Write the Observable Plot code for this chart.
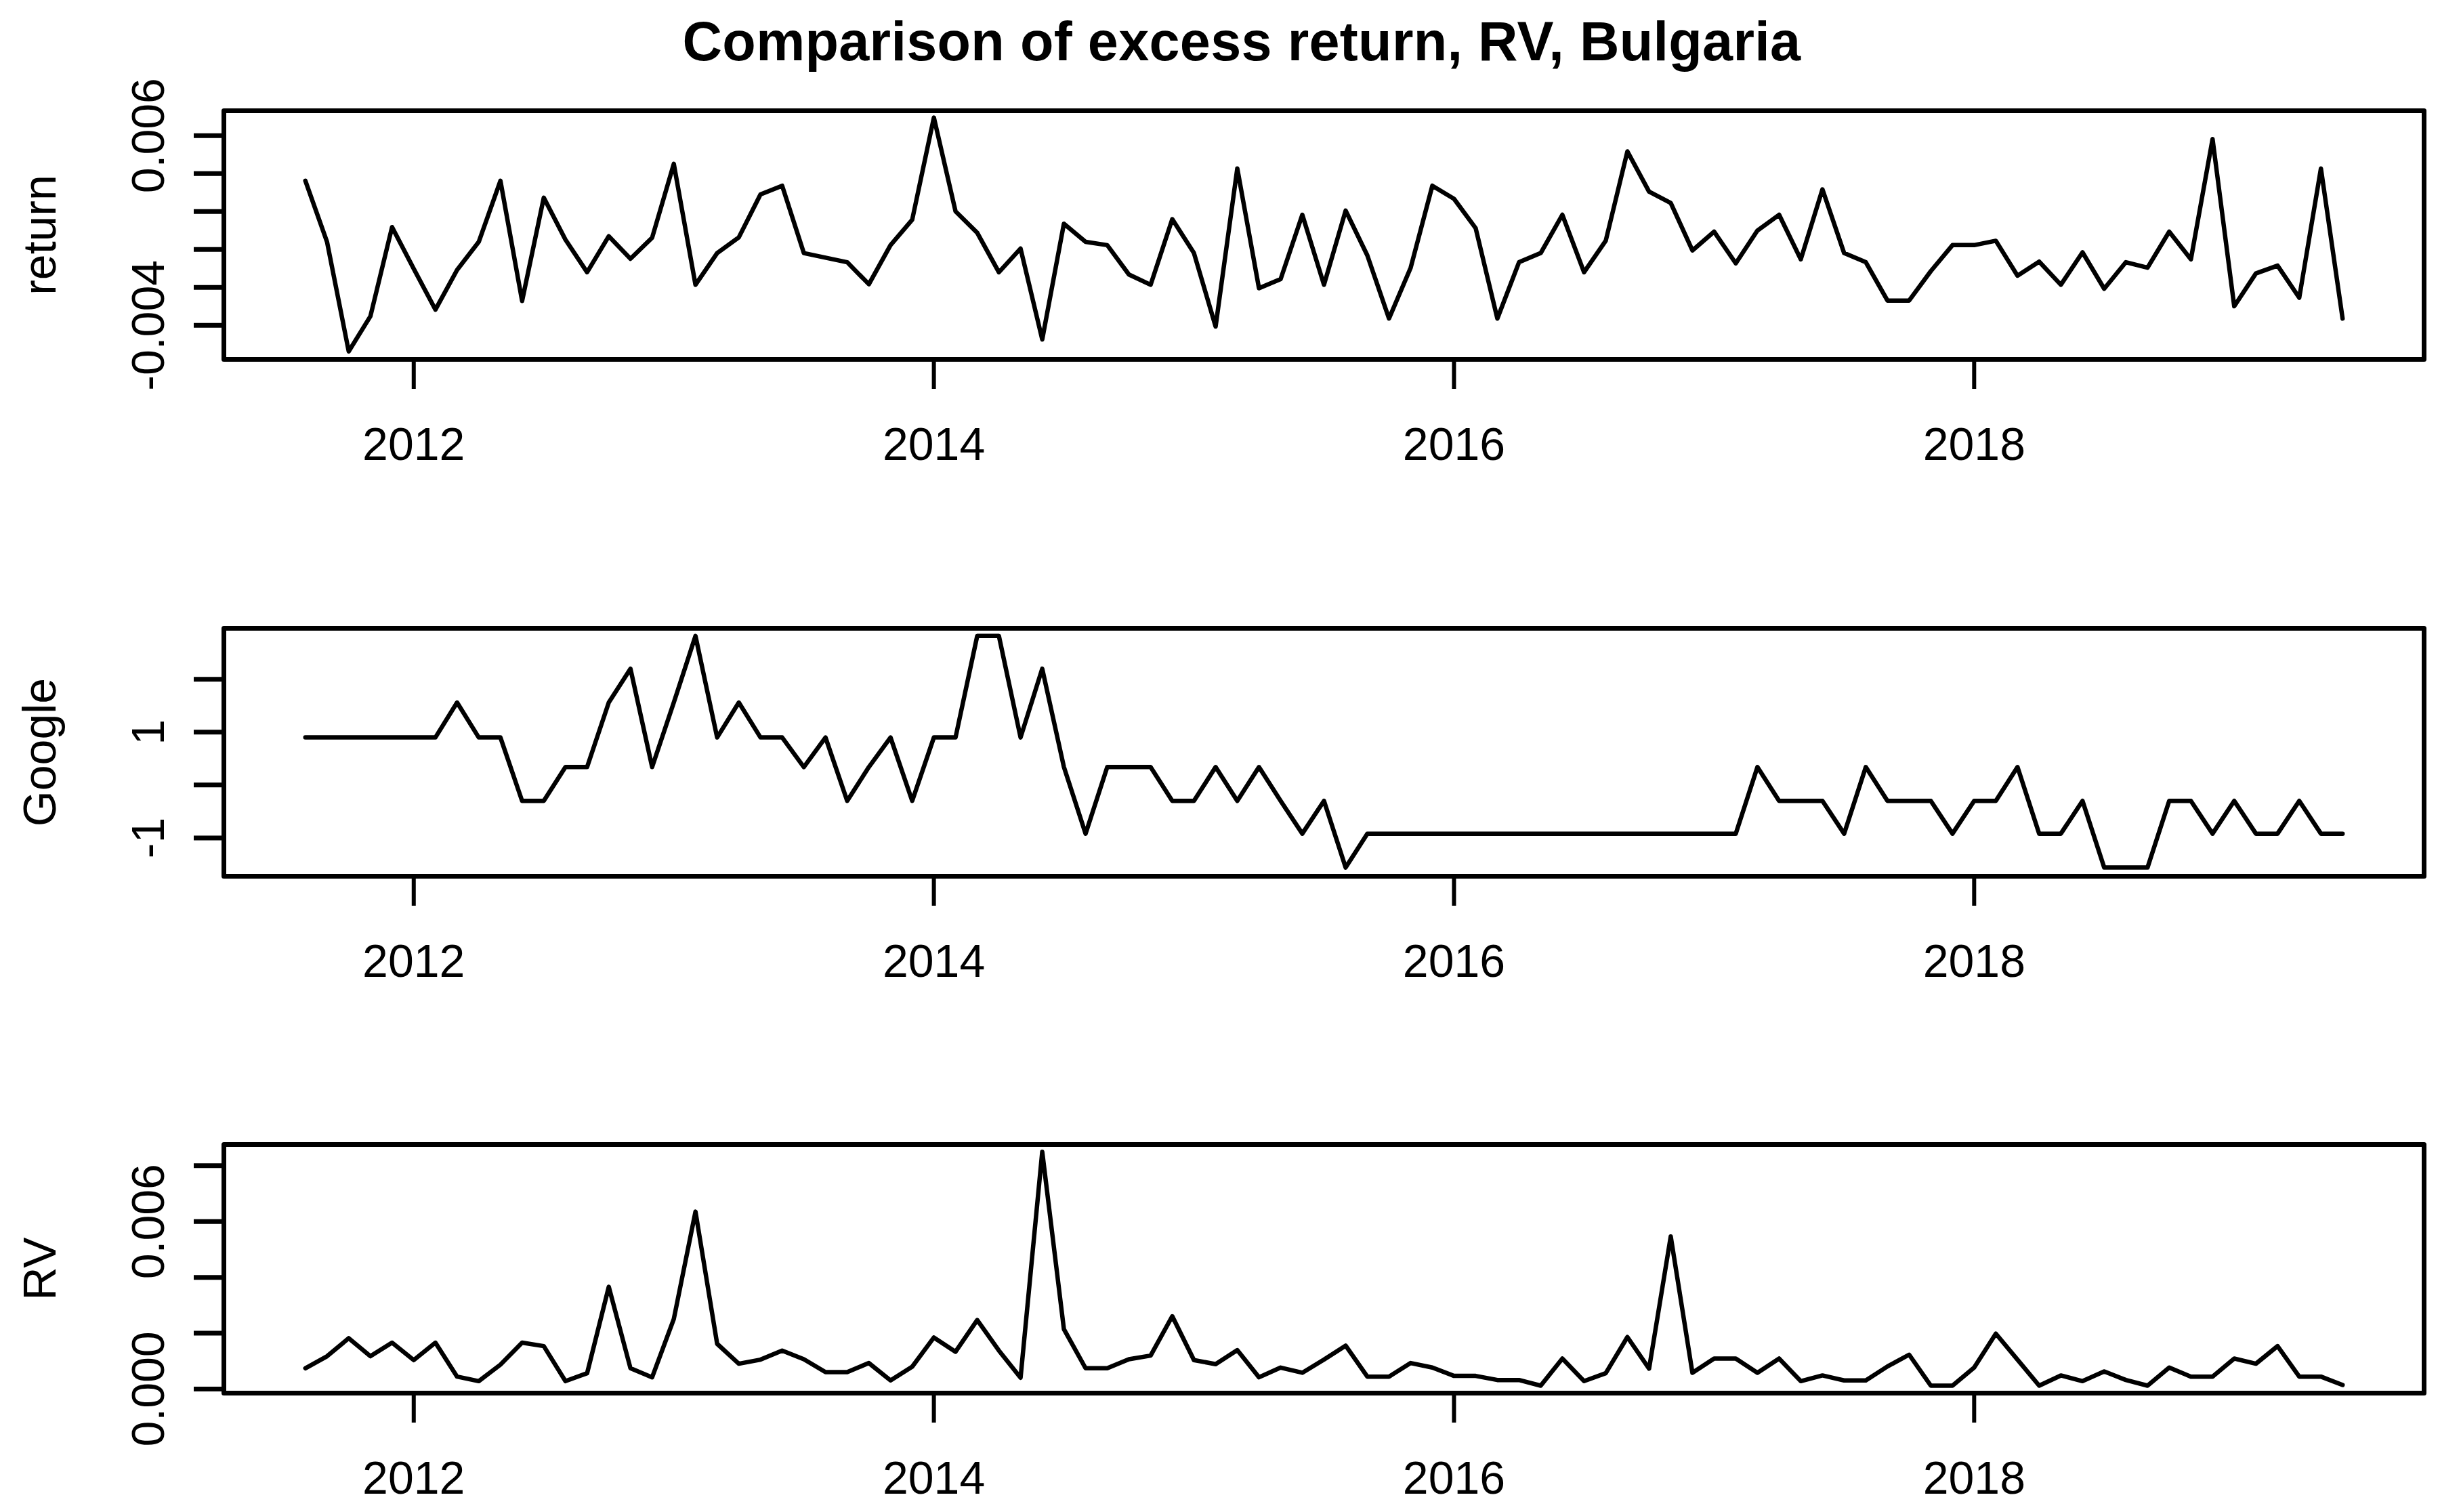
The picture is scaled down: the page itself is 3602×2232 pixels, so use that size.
<!DOCTYPE html>
<html>
<head>
<meta charset="utf-8">
<script src="https://cdn.jsdelivr.net/npm/d3@7"></script>
<script src="https://cdn.jsdelivr.net/npm/@observablehq/plot@0.6"></script>
<style>
  body { margin: 0; background: white; }
  #wrap { position: relative; width: 3602px; height: 2232px; background: white; font-family: "Liberation Sans", Arial, Helvetica, sans-serif; }
  #title { position: absolute; left: 0; top: 0; width: 3602px; height: 120px; }
  #title span { position: absolute; left: 1833px; top: 21px; transform: translateX(-50%); font-weight: bold; font-size: 81px; line-height: 81px; white-space: nowrap; color: black; letter-spacing: 0.3px; }
  .panel { position: absolute; left: 0; }
</style>
</head>
<body>
<div id="wrap">
  <div id="title"><span>Comparison of excess return, RV, Bulgaria</span></div>
  <div class="panel" id="p1" style="top:120px"></div>
  <div class="panel" id="p2" style="top:764px"></div>
  <div class="panel" id="p3" style="top:1526px"></div>
</div>
<script>
// Monthly observations, Aug 2011 – Jun 2019
const months = [
  "2011-08","2011-09","2011-10","2011-11","2011-12",
  "2012-01","2012-02","2012-03","2012-04","2012-05","2012-06","2012-07","2012-08","2012-09","2012-10","2012-11","2012-12",
  "2013-01","2013-02","2013-03","2013-04","2013-05","2013-06","2013-07","2013-08","2013-09","2013-10","2013-11","2013-12",
  "2014-01","2014-02","2014-03","2014-04","2014-05","2014-06","2014-07","2014-08","2014-09","2014-10","2014-11","2014-12",
  "2015-01","2015-02","2015-03","2015-04","2015-05","2015-06","2015-07","2015-08","2015-09","2015-10","2015-11","2015-12",
  "2016-01","2016-02","2016-03","2016-04","2016-05","2016-06","2016-07","2016-08","2016-09","2016-10","2016-11","2016-12",
  "2017-01","2017-02","2017-03","2017-04","2017-05","2017-06","2017-07","2017-08","2017-09","2017-10","2017-11","2017-12",
  "2018-01","2018-02","2018-03","2018-04","2018-05","2018-06","2018-07","2018-08","2018-09","2018-10","2018-11","2018-12",
  "2019-01","2019-02","2019-03","2019-04","2019-05","2019-06"
];

const returnValues = [
  0.00362, 0.00040, -0.00537, -0.00352, 0.00118,
  -0.00102, -0.00317, -0.00108, 0.00040, 0.00362, -0.00271, 0.00273, 0.00052, -0.00120, 0.00070, -0.00049, 0.00062,
  0.00451, -0.00186, -0.00019, 0.00064, 0.00290, 0.00336, -0.00019, -0.00043, -0.00067, -0.00183, 0.00023, 0.00157,
  0.00695, 0.00201, 0.00088, -0.00120, 0.00005, -0.00474, 0.00136, 0.00040, 0.00023, -0.00132, -0.00186, 0.00160,
  -0.00019, -0.00406, 0.00427, -0.00204, -0.00156, 0.00183, -0.00186, 0.00205, -0.00031, -0.00364, -0.00096, 0.00336,
  0.00267, 0.00112, -0.00364, -0.00067, -0.00019, 0.00183, -0.00120, 0.00046, 0.00517, 0.00305, 0.00245, -0.00005,
  0.00094, -0.00073, 0.00100, 0.00183, -0.00052, 0.00317, -0.00019, -0.00067, -0.00269, -0.00269, -0.00114, 0.00023,
  0.00023, 0.00046, -0.00138, -0.00064, -0.00186, -0.00015, -0.00207, -0.00067, -0.00096, 0.00094, -0.00052, 0.00582,
  -0.00299, -0.00126, -0.00085, -0.00254, 0.00427, -0.00364
];

const googleValues = [
  0.90, 0.90, 0.90, 0.90, 0.90,
  0.90, 0.90, 1.56, 0.90, 0.90, -0.30, -0.30, 0.34, 0.34, 1.56, 2.20, 0.34,
  1.56, 2.82, 0.90, 1.56, 0.90, 0.90, 0.34, 0.90, -0.30, 0.34, 0.90, -0.30,
  0.90, 0.90, 2.82, 2.82, 0.90, 2.20, 0.34, -0.92, 0.34, 0.34, 0.34, -0.30,
  -0.30, 0.34, -0.30, 0.34, -0.30, -0.92, -0.30, -1.56, -0.92, -0.92, -0.92, -0.92,
  -0.92, -0.92, -0.92, -0.92, -0.92, -0.92, -0.92, -0.92, -0.92, -0.92, -0.92, -0.92,
  -0.92, -0.92, 0.34, -0.30, -0.30, -0.30, -0.92, 0.34, -0.30, -0.30, -0.30, -0.92,
  -0.30, -0.30, 0.34, -0.92, -0.92, -0.30, -1.56, -1.56, -1.56, -0.30, -0.30, -0.92,
  -0.30, -0.92, -0.92, -0.30, -0.92, -0.92
];

const rvValues = [
  0.000745, 0.001174, 0.001822, 0.001174, 0.001660,
  0.001036, 0.001660, 0.000445, 0.000283, 0.000874, 0.001660, 0.001538, 0.000283, 0.000567, 0.003660, 0.000745, 0.000421,
  0.002510, 0.006356, 0.001619, 0.000907, 0.001053, 0.001377, 0.001069, 0.000607, 0.000607, 0.000931, 0.000308, 0.000800,
  0.001846, 0.001336, 0.002470, 0.001377, 0.000405, 0.008500, 0.002146, 0.000745, 0.000745, 0.001069, 0.001198, 0.002607,
  0.001036, 0.000891, 0.001393, 0.000421, 0.000769, 0.000583, 0.001053, 0.001555, 0.000445, 0.000445, 0.000931, 0.000769,
  0.000470, 0.000470, 0.000324, 0.000324, 0.000121, 0.001093, 0.000283, 0.000567, 0.001862, 0.000729, 0.005466, 0.000583,
  0.001093, 0.001093, 0.000583, 0.001093, 0.000283, 0.000486, 0.000308, 0.000308, 0.000810, 0.001231, 0.000121, 0.000121,
  0.000769, 0.001984, 0.001053, 0.000121, 0.000486, 0.000283, 0.000632, 0.000324, 0.000121, 0.000769, 0.000445, 0.000445,
  0.001093, 0.000907, 0.001538, 0.000445, 0.000445, 0.000146
];

const xTicks = [2012, 2014, 2016, 2018];
const xTickLabels = ["2012", "2014", "2016", "2018"];

const returnTicks = [-0.004, -0.002, 0, 0.002, 0.004, 0.006];
const returnTickLabels = ["-0.004", "", "", "", "", "0.006"];
const googleTicks = [-1, 0, 1, 2];
const googleTickLabels = ["-1", "", "1", ""];
const rvTicks = [0, 0.002, 0.004, 0.006, 0.008];
const rvTickLabels = ["0.000", "", "", "0.006", ""];

const panelNames = ["return", "Google", "RV"];

function toYear(m) {
  return +m.slice(0, 4) + (+m.slice(5, 7) - 1) / 12;
}

const FONT = "'Liberation Sans', Arial, Helvetica, sans-serif";

function makePanel({values, domain, ticks, tickLabels, name, height, marginTop, marginBottom}) {
  const rows = months.map((m, i) => ({t: toYear(m), v: values[i]}));
  const labelled = ticks.map((d, i) => ({d, s: tickLabels[i]})).filter(o => o.s !== "");
  return Plot.plot({
    width: 3602,
    height,
    marginLeft: 330,
    marginRight: 24,
    marginTop,
    marginBottom,
    style: {fontFamily: FONT, fontSize: "67px", background: "white", color: "black", overflow: "visible"},
    x: {type: "linear", domain: [2011.27, 2019.73]},
    y: {type: "linear", domain},
    marks: [
      Plot.axisX({
        ticks: xTicks,
        tickFormat: d => xTickLabels[xTicks.indexOf(d)],
        tickSize: 44,
        tickPadding: 56,
        fontSize: 68,
        strokeWidth: 6,
        label: null
      }),
      Plot.axisY({
        ticks,
        tickFormat: () => "",
        tickSize: 44,
        strokeWidth: 7,
        label: null
      }),
      Plot.text(labelled, {
        y: "d",
        text: "s",
        frameAnchor: "left",
        dx: -89,
        rotate: -90,
        textAnchor: "middle",
        lineAnchor: "bottom",
        fontSize: 68,
        fill: "black"
      }),
      Plot.text([name], {
        text: d => d,
        frameAnchor: "left",
        dx: -249,
        rotate: -90,
        textAnchor: "middle",
        lineAnchor: "bottom",
        fontSize: 68,
        fill: "black"
      }),
      Plot.line(rows, {x: "t", y: "v", stroke: "black", strokeWidth: 6.5, strokeLinejoin: "round", strokeLinecap: "round"}),
      Plot.frame({stroke: "black", strokeWidth: 7, strokeLinejoin: "round"})
    ]
  });
}

document.getElementById("p1").appendChild(makePanel({
  values: returnValues, domain: [-0.00579, 0.00731], ticks: returnTicks, tickLabels: returnTickLabels,
  name: panelNames[0], height: 644, marginTop: 43, marginBottom: 234
}));
document.getElementById("p2").appendChild(makePanel({
  values: googleValues, domain: [-1.725, 2.964], ticks: googleTicks, tickLabels: googleTickLabels,
  name: panelNames[1], height: 762, marginTop: 163, marginBottom: 233
}));
document.getElementById("p3").appendChild(makePanel({
  values: rvValues, domain: [-0.000146, 0.00876], ticks: rvTicks, tickLabels: rvTickLabels,
  name: panelNames[2], height: 706, marginTop: 163, marginBottom: 176
}));
</script>
</body>
</html>
